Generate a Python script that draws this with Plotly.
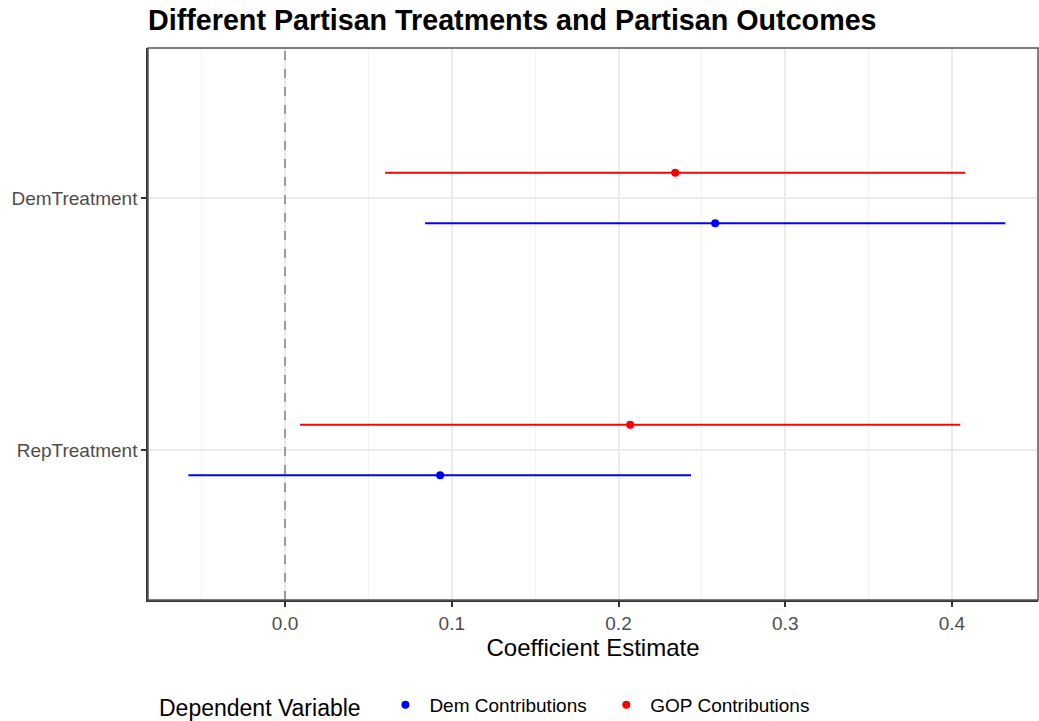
import plotly.graph_objects as go

terms = ["DemTreatment", "RepTreatment"]
term_pos = [2, 1]
series = ["Dem Contributions", "GOP Contributions"]
colors = {"Dem Contributions": "#0000ff", "GOP Contributions": "#ff0000"}
dodge = {"Dem Contributions": -0.1, "GOP Contributions": 0.1}

estimate = {"Dem Contributions": [0.258, 0.093], "GOP Contributions": [0.234, 0.207]}
conf_low = {"Dem Contributions": [0.084, -0.058], "GOP Contributions": [0.060, 0.009]}
conf_high = {"Dem Contributions": [0.432, 0.2435], "GOP Contributions": [0.408, 0.405]}

fig = go.Figure()
for s in series:
    ys = [p + dodge[s] for p in term_pos]
    est = estimate[s]
    fig.add_trace(go.Scatter(
        x=est, y=ys, mode="markers", name=s + "  ",
        marker=dict(color=colors[s], size=8),
        error_x=dict(type="data", symmetric=False,
                     array=[h - e for h, e in zip(conf_high[s], est)],
                     arrayminus=[e - l for l, e in zip(conf_low[s], est)],
                     color=colors[s], thickness=2, width=0),
    ))

fig.add_shape(type="line", xref="x", yref="paper", x0=0, x1=0, y0=0, y1=1,
              line=dict(color="#9a9a9a", width=2, dash="dash"), layer="above")

fig.update_layout(
    width=1039, height=721,
    margin=dict(l=148, r=1, t=48, b=121, autoexpand=False),
    paper_bgcolor="white", plot_bgcolor="white",
    font=dict(family="Liberation Sans, Arial, sans-serif", color="#000000"),
    title=dict(text="<b>Different Partisan Treatments and Partisan Outcomes</b>",
               x=148/1039, xanchor="left", y=1-20/721, yanchor="middle",
               font=dict(size=28.7, color="#000000")),
    xaxis=dict(range=[-0.0822, 0.4516], tickvals=[0.0, 0.1, 0.2, 0.3, 0.4],
               ticktext=["0.0", "0.1", "0.2", "0.3", "0.4"],
               showgrid=True, gridcolor="#ebebeb", gridwidth=2,
               minor=dict(dtick=0.05, tick0=0, showgrid=True, gridcolor="#f2f2f2", gridwidth=1),
               zeroline=False, showline=True, linecolor="#333333", linewidth=2,
               mirror=False, ticks="outside", ticklen=5, tickcolor="#333333", tickwidth=2,
               tickfont=dict(size=19, color="#4d4d4d"),
               title=dict(text="Coefficient Estimate", font=dict(size=24, color="#000000"), standoff=0)),
    yaxis=dict(range=[0.405, 2.595], tickvals=term_pos, ticktext=terms,
               showgrid=True, gridcolor="#ebebeb", gridwidth=2, zeroline=False,
               showline=True, linecolor="#333333", linewidth=1.5,
               ticks="outside", ticklen=5, tickcolor="#333333", tickwidth=2,
               tickfont=dict(size=19, color="#4d4d4d")),
    legend=dict(orientation="h", x=157/1039, xanchor="left", xref="container",
                y=(721-706)/721, yanchor="middle", yref="container",
                title=dict(text="Dependent Variable  ", font=dict(size=23, color="#000000")),
                font=dict(size=19, color="#000000"), itemwidth=38),
    showlegend=True,
)
fig.add_shape(type="rect", xref="paper", yref="paper", x0=0, x1=1, y0=0, y1=1,
              line=dict(color="#555555", width=1.5), layer="above")

fig.write_html("out.html")
